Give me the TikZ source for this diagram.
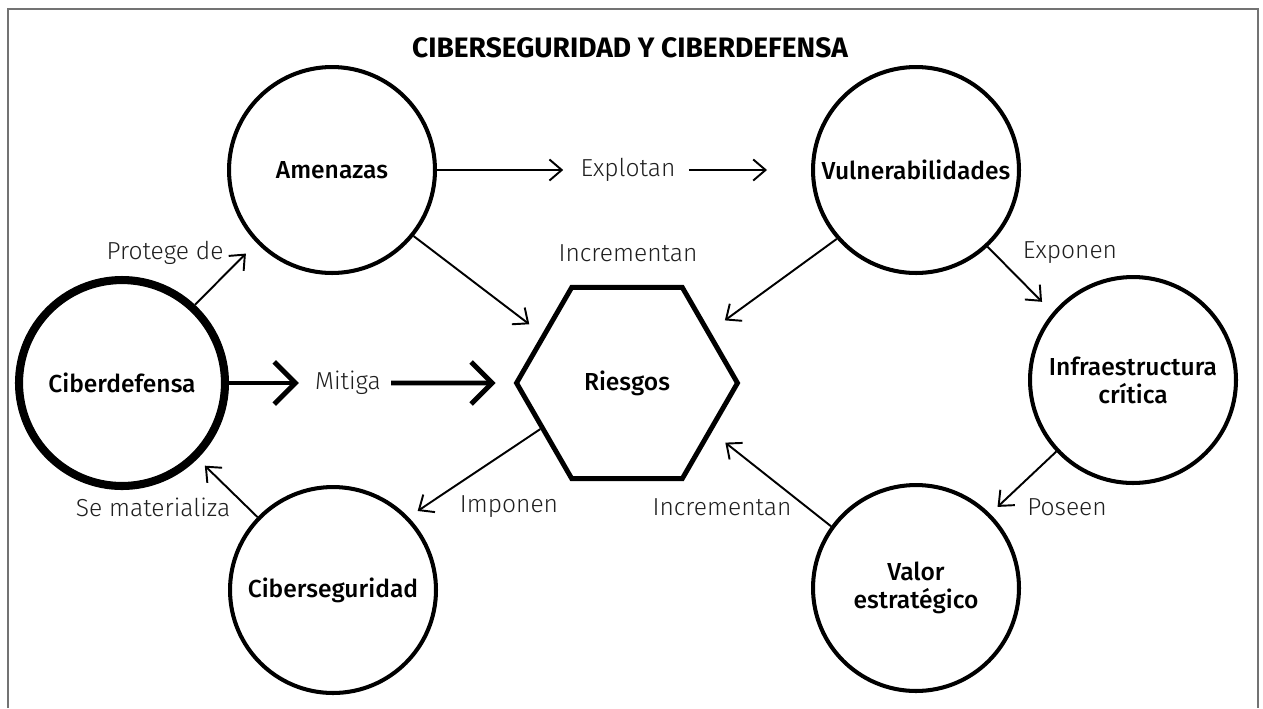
\documentclass[tikz,border=0pt]{standalone}
\usepackage{fontspec}
\setmainfont{Fira Sans}[UprightFont=* Light, BoldFont=* Medium]
\newfontfamily\heavyfont{Fira Sans}
\usetikzlibrary{arrows.meta,shapes.geometric}
\tikzset{
  txt/.style={font=\fontsize{14}{16}\selectfont#1}
}

\begin{document}
\begin{tikzpicture}[x=0.02cm, y=-0.02cm,
    main/.style = {draw, circle, line width=2.3pt, minimum size=4.12cm, inner sep=0pt, align=center, txt=\bfseries},
    core/.style = {main, line width=4.6pt},
    hexa/.style = {draw, regular polygon, regular polygon sides=6, minimum size=4.42cm, inner sep=0pt, line width=2.8pt, txt=\bfseries},
    lbl/.style = {inner sep=0pt, text=black!88, txt=},
    arr/.style = {-{Straight Barb[length=7pt,width=12pt]}, line width=1.1pt},
    big/.style = {-{Straight Barb[length=12pt,width=24pt]}, line width=2.8pt}]
    \useasboundingbox (0,0) rectangle (1263,708);
    \draw[black!55, line width=0.6pt] (8,708) -- (8,9) -- (1258,9) -- (1258,708);

    \node[font=\heavyfont\bfseries\fontsize{16}{18}\selectfont] (title) at (630,48) {CIBERSEGURIDAD Y CIBERDEFENSA};

    \node[main](amen) at (332,170) {Amenazas};
    \node[main](vuln) at (916,170) {Vulnerabilidades};
    \node[core](cdef) at (122,383) {Ciberdefensa};
    \node[hexa](ries) at (627,383) {Riesgos};
    \node[main](infra) at (1133,380) {Infraestructura\\crítica};
    \node[main](cseg) at (333,590) {Ciberseguridad};
    \node[main](valor) at (916,588) {Valor\\estratégico};

    % labels
    \node[lbl](expl) at (628,170) {Explotan};
    \node[lbl](miti) at (348,383) {Mitiga};
    \node[lbl](prot) at (165,253) {Protege de};
    \node[lbl](incA) at (628,253) {Incrementan};
    \node[lbl](expo) at (1070,253) {Exponen};
    \node[lbl](sema) at (153,507) {Se materializa};
    \node[lbl](impo) at (509,507) {Imponen};
    \node[lbl](incB) at (722,507) {Incrementan};
    \node[lbl](pose) at (1067,507) {Poseen};

    \path[arr]
    (amen.east) edge[shorten >=0.34cm] (expl.west)
    (expl.east) edge[shorten <=0.26cm, shorten >=0.88cm] (vuln.west)
    (cdef.47) edge[shorten >=0.3cm] (amen.224)
    (amen.-39) edge[shorten >=0.32cm] (ries.150)
    (vuln.221) edge[shorten >=0.36cm] (ries.32)
    (vuln.-47) edge[shorten >=0.3cm] (infra.140)
    (infra.223) edge[shorten >=0.2cm] (valor.45)
    (valor.144) edge[shorten >=0.34cm] (ries.-30)
    (ries.208) edge[shorten >=0.22cm] (cseg.44)
    (cseg.136) edge[shorten >=0.2cm] (cdef.-45)
    ;

    \path[big]
    (cdef.east) edge[shorten >=0.32cm] (miti.west)
    (miti.east) edge[shorten <=0.2cm, shorten >=0.36cm] (ries.west)
    ;
  \end{tikzpicture}
\end{document}
